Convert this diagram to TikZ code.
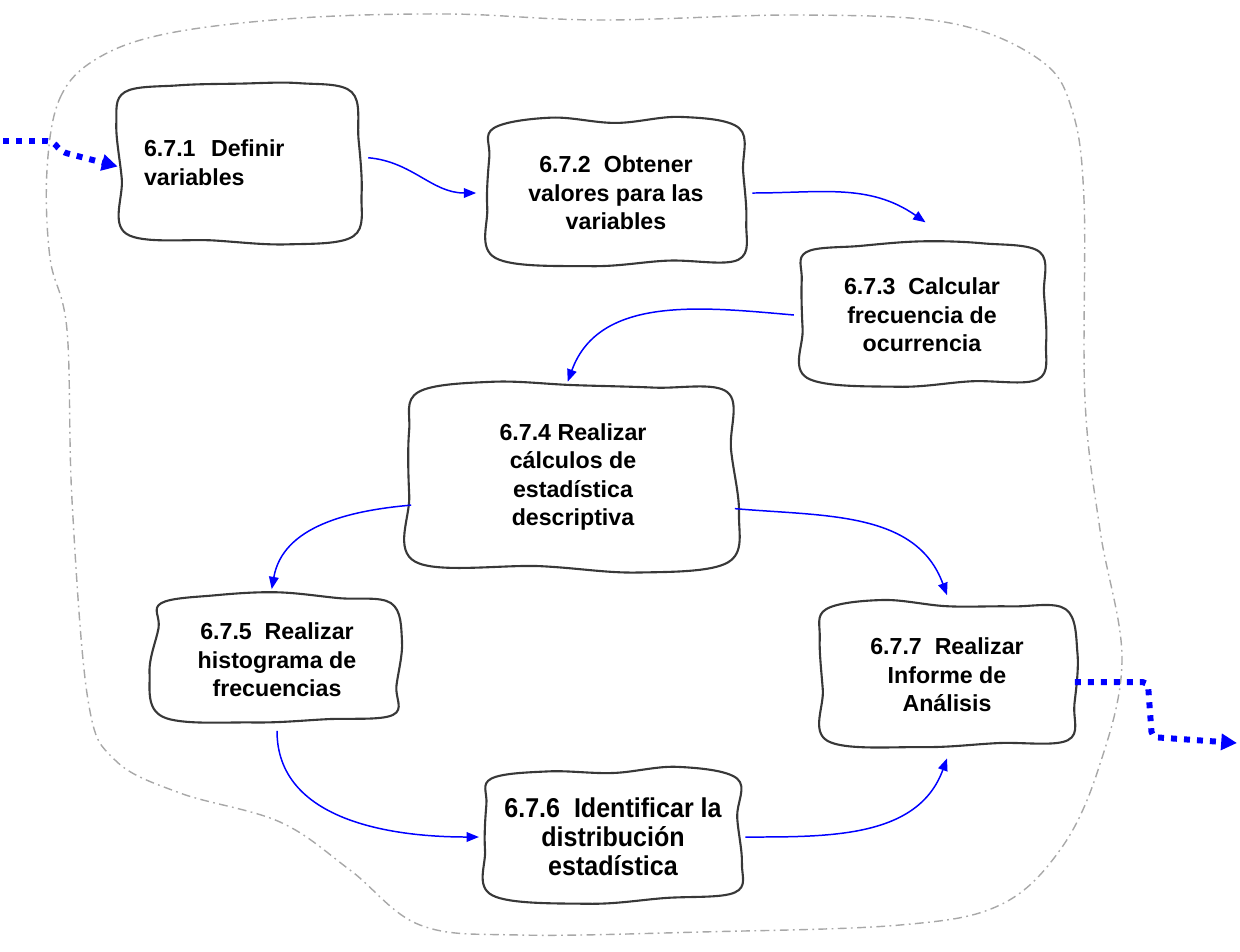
\documentclass[tikz,border=0pt]{standalone}
\usepackage{fontspec}
\setmainfont{Liberation Sans}
\newfontfamily\narrowsf[FakeStretch=0.92]{Liberation Sans}
\usetikzlibrary{arrows.meta, calc}
\definecolor{flechaazul}{HTML}{0000FF}
\definecolor{bordegris}{HTML}{A8A8A8}

\tikzset{
  tarea/.style={align=center, inner sep=3pt, font=\bfseries\fontsize{13.2}{16.3}\selectfont},
  bordetarea/.style={draw=black!78, line width=1.2pt, line join=round},
  flecha/.style={draw=flechaazul, line width=0.85pt, -{Triangle[length=7pt,width=5.5pt]}},
  flujo/.style={draw=flechaazul, line width=3.4pt, dash pattern=on 3.4pt off 4pt,
    rounded corners=3pt, -{Triangle[length=9pt,width=9pt]}},
}

% borde ondulado alrededor de una tarea
\newcommand{\contorno}[1]{%
  \draw[bordetarea] plot[smooth cycle, tension=0.6] coordinates {
    ($(#1.north west)+(7,7)$)
    ($(#1.north west)!0.25!(#1.north east)+(0,{5*rand})$)
    ($(#1.north west)!0.5!(#1.north east)+(0,{5*rand})$)
    ($(#1.north west)!0.75!(#1.north east)+(0,{5*rand})$)
    ($(#1.north east)+({-7+3*rand},7)$)
    ($(#1.north east)!0.35!(#1.south east)+({5*rand},0)$)
    ($(#1.north east)!0.7!(#1.south east)+({5*rand},0)$)
    ($(#1.south east)+(-7,{-7+3*rand})$)
    ($(#1.south east)!0.3!(#1.south west)+(0,{5*rand})$)
    ($(#1.south east)!0.6!(#1.south west)+(0,{5*rand})$)
    ($(#1.south west)+({7+3*rand},-7)$)
    ($(#1.south west)!0.4!(#1.north west)+({5*rand},0)$)
    ($(#1.south west)!0.75!(#1.north west)+({5*rand},0)$)
  };}

\begin{document}
\begin{tikzpicture}[x=0.02cm, y=-0.02cm]
  \pgfmathsetseed{11}
  \useasboundingbox (0,0) rectangle (1240,951);

  % contorno del proceso
  \draw[bordegris, line width=0.8pt, dash pattern=on 5pt off 2.5pt on 1pt off 2.5pt]
    plot[smooth cycle, tension=0.6] coordinates {
      (47,170) (60,98) (98,58) (170,33) (300,18) (450,14) (600,20) (800,15)
      (950,23) (1040,60) (1072,110) (1084,200) (1085,400) (1100,530) (1122,660)
      (1098,770) (1060,850) (1000,905) (900,925) (700,932) (520,935) (420,925)
      (350,870) (280,822) (180,793) (115,760) (88,700) (72,500) (67,330) (50,258)};

  % tareas
  \node[tarea, minimum width=4.84cm, minimum height=3.1cm, text width=3.8cm, align=left]
    (definir) at (239,163) {6.7.1\ \ Definir\\variables};
  \node[tarea, minimum width=5.16cm, minimum height=2.86cm]
    (obtener) at (616,193) {6.7.2\ \ Obtener\\valores para las\\variables};
  \node[tarea, minimum width=4.9cm, minimum height=2.78cm]
    (calcular) at (922,315) {6.7.3\ \ Calcular\\frecuencia de\\ocurrencia};
  \node[tarea, minimum width=6.46cm, minimum height=3.66cm]
    (estadistica) at (573,477) {6.7.4 Realizar\\cálculos de\\estadística\\descriptiva};
  \node[tarea, minimum width=4.9cm, minimum height=2.54cm]
    (histograma) at (277,660) {6.7.5\ \ Realizar\\histograma de\\frecuencias};
  \node[tarea, minimum width=5.14cm, minimum height=2.6cm, font=\narrowsf\bfseries\fontsize{15.5}{16.5}\selectfont]
    (distribucion) at (613,837) {6.7.6\ \ Identificar la\\distribución\\estadística};
  \node[tarea, minimum width=5.1cm, minimum height=2.9cm]
    (informe) at (947,675) {6.7.7\ \ Realizar\\Informe de\\Análisis};

  \foreach \t in {definir, obtener, calcular, estadistica, histograma, distribucion, informe}
    \contorno{\t};

  % entrada y salida
  \coordinate (entrada) at (3,141);
  \coordinate (salida) at (1237,743);
  \draw[flujo] (entrada) -- ++(49,0) -- ++(10,11) -- ([yshift=-2pt]definir.west);
  \draw[flujo] ([yshift=-4pt]informe.east) -- ++(73,0) -- ++(4,55) -- (salida);

  % flechas entre tareas
  \draw[flecha] ([xshift=4.5pt,yshift=3pt]definir.east) to[out=-5, in=180] ([xshift=-6pt]obtener.west);
  \draw[flecha] ([xshift=4pt]obtener.east) to[out=0, in=145] ([xshift=2pt,yshift=13pt]calcular.north);
  \draw[flecha] ([xshift=-3pt]calcular.west) to[out=175, in=70] ([xshift=-3pt,yshift=2pt]estadistica.north);
  \draw[flecha] ([yshift=-16pt]estadistica.west) to[out=185, in=80] ([xshift=-3pt,yshift=4pt]histograma.north);
  \draw[flecha] ([yshift=-18pt]estadistica.east) to[out=-5, in=110] ([yshift=4pt]informe.north);
  \draw[flecha] ([yshift=-4pt]histograma.south) to[out=-90, in=180] ([xshift=-3pt]distribucion.west);
  \draw[flecha] ([xshift=2pt]distribucion.east) to[out=0, in=-110] ([yshift=-6pt]informe.south);
\end{tikzpicture}
\end{document}
